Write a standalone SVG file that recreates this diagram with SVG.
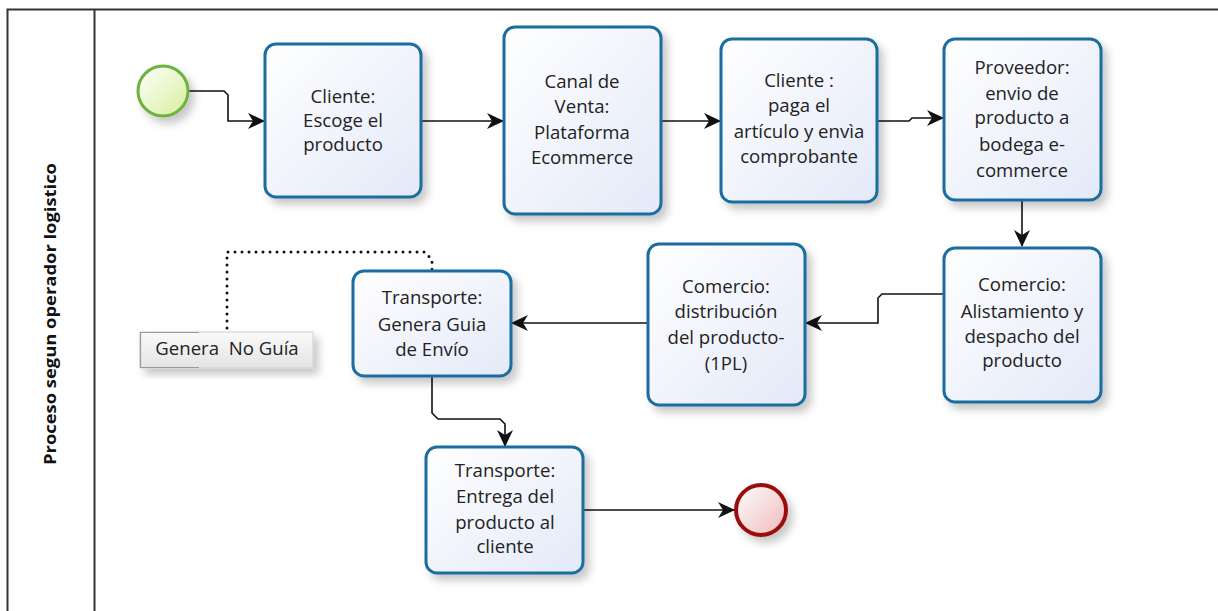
<svg xmlns="http://www.w3.org/2000/svg" width="1218" height="611" viewBox="0 0 1218 611">
<style>
.task{fill:url(#gTask);stroke:#1c6d9f;stroke-width:3;filter:url(#sh)}
.lbl{font-family:"Open Sans","Liberation Sans",sans-serif;font-size:18.6px;fill:#222;text-anchor:middle}
.pool{fill:none;stroke:#333;stroke-width:2}
.flow{fill:none;stroke:#111;stroke-width:1.6;marker-end:url(#arr)}
</style>
<defs>
<linearGradient id="gTask" x1="0" y1="0" x2="1" y2="1"><stop offset="0" stop-color="#ffffff"/><stop offset="1" stop-color="#e3e9f8"/></linearGradient>
<linearGradient id="gStart" x1="0" y1="0" x2="1" y2="1"><stop offset="0" stop-color="#ffffff"/><stop offset="1" stop-color="#d6ef9c"/></linearGradient>
<linearGradient id="gEnd" x1="0" y1="0" x2="1" y2="1"><stop offset="0" stop-color="#ffffff"/><stop offset="1" stop-color="#eeb9b9"/></linearGradient>
<linearGradient id="gAnn" x1="0" y1="0" x2="0" y2="1"><stop offset="0" stop-color="#fafafa"/><stop offset="1" stop-color="#e4e4e4"/></linearGradient>
<filter id="sh" x="-20%" y="-20%" width="150%" height="150%"><feDropShadow dx="5" dy="6" stdDeviation="4" flood-color="#000" flood-opacity="0.22"/></filter>
<marker id="arr" markerUnits="userSpaceOnUse" markerWidth="18" markerHeight="18" refX="16" refY="8" orient="auto" viewBox="0 0 18 16"><path d="M0,0 L17,8 L0,16 L5,8 z" fill="#111"/></marker>
</defs>

<g id="pool">
<path class="pool" d="M7.5,611 V9.5 H1218"/>
<line class="pool" x1="94.5" y1="9" x2="94.5" y2="611"/>
<text x="0" y="0" transform="translate(56,314) rotate(-90)" font-family="'Open Sans','Liberation Sans',sans-serif" font-weight="bold" font-size="16" text-anchor="middle" textLength="302" lengthAdjust="spacingAndGlyphs" fill="#111">Proceso segun operador logistico</text>
</g>

<g id="connectors">
<path class="flow" d="M189,91 H224 L228,95 V121 H264"/>
<path class="flow" d="M421,121 H503"/>
<path class="flow" d="M660,121 H720"/>
<path class="flow" d="M877,121 H909 L912,118 H943"/>
<path class="flow" d="M1022,200 V246"/>
<path class="flow" d="M944,294 H882 L878,298 V323 H806"/>
<path class="flow" d="M648,323 H512"/>
<path class="flow" d="M432,376 V413 L438,419 H500 L505,424 V446"/>
<path class="flow" d="M583,510 H734"/>
<path d="M227,328 V252 H425 L432,260 V270" fill="none" stroke="#111" stroke-width="3" stroke-linecap="round" stroke-dasharray="0 7"/>
</g>

<g id="start"><circle cx="163" cy="91" r="25" fill="url(#gStart)" stroke="#6cb33f" stroke-width="3" filter="url(#sh)"/></g>

<g id="n1"><rect class="task" x="265" y="44" width="156" height="153" rx="11"/>
<text class="lbl" x="343"><tspan x="343" y="103">Cliente:</tspan><tspan x="343" y="127">Escoge el</tspan><tspan x="343" y="151">producto</tspan></text></g>

<g id="n2"><rect class="task" x="504" y="27" width="157" height="187" rx="11"/>
<text class="lbl"><tspan x="582" y="88">Canal de</tspan><tspan x="582" y="113">Venta:</tspan><tspan x="582" y="139">Plataforma</tspan><tspan x="582" y="164">Ecommerce</tspan></text></g>

<g id="n3"><rect class="task" x="721" y="39" width="156" height="163" rx="11"/>
<text class="lbl"><tspan x="799" y="87">Cliente :</tspan><tspan x="799" y="112">paga el</tspan><tspan x="799" y="138">artículo y envìa</tspan><tspan x="799" y="163">comprobante</tspan></text></g>

<g id="n4"><rect class="task" x="944" y="39" width="157" height="161" rx="11"/>
<text class="lbl"><tspan x="1022" y="74">Proveedor:</tspan><tspan x="1022" y="100">envio de</tspan><tspan x="1022" y="124">producto a</tspan><tspan x="1022" y="151">bodega e-</tspan><tspan x="1022" y="177">commerce</tspan></text></g>

<g id="n5"><rect class="task" x="944" y="248" width="157" height="154" rx="11"/>
<text class="lbl"><tspan x="1022" y="291">Comercio:</tspan><tspan x="1022" y="318">Alistamiento y</tspan><tspan x="1022" y="343">despacho del</tspan><tspan x="1022" y="367">producto</tspan></text></g>

<g id="n6"><rect class="task" x="648" y="244" width="157" height="161" rx="11"/>
<text class="lbl"><tspan x="726" y="293">Comercio:</tspan><tspan x="726" y="318">distribución</tspan><tspan x="726" y="344">del producto-</tspan><tspan x="726" y="370">(1PL)</tspan></text></g>

<g id="n7"><rect class="task" x="353" y="271" width="158" height="105" rx="11"/>
<text class="lbl"><tspan x="432" y="304">Transporte:</tspan><tspan x="432" y="331">Genera Guia</tspan><tspan x="432" y="356">de Envío</tspan></text></g>

<g id="n8"><rect class="task" x="426" y="447" width="157" height="126" rx="11"/>
<text class="lbl"><tspan x="505" y="477">Transporte:</tspan><tspan x="505" y="503">Entrega del</tspan><tspan x="505" y="529">producto al</tspan><tspan x="505" y="553">cliente</tspan></text></g>

<g id="end"><circle cx="761" cy="510" r="25" fill="url(#gEnd)" stroke="#9b1111" stroke-width="4" filter="url(#sh)"/></g>

<g id="annotation">
<rect x="140" y="332" width="173" height="36" fill="url(#gAnn)" stroke="#cfcfcf" stroke-width="1" filter="url(#sh)"/>
<path d="M199,332.5 H140.5 V367.5 H199" fill="none" stroke="#999" stroke-width="1.2"/>
<text class="lbl" x="227" y="355" xml:space="preserve" font-size="17">Genera  No Guía</text>
</g>
</svg>
